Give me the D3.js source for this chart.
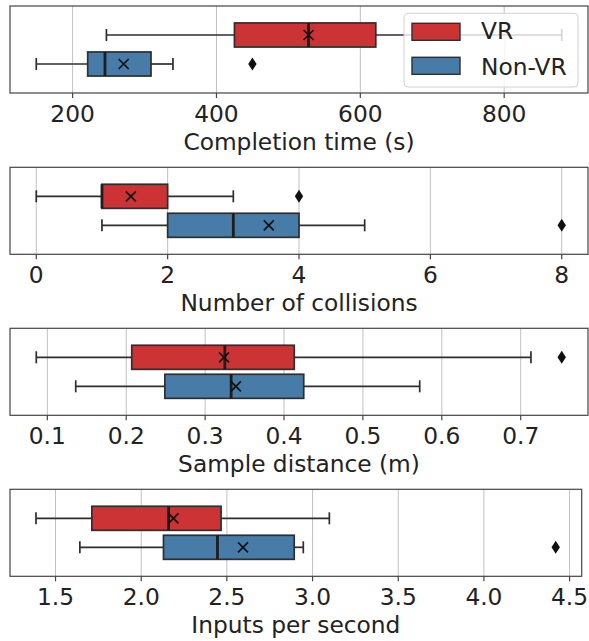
<!DOCTYPE html>
<html>
<head>
<meta charset="utf-8">
<script src="https://cdn.jsdelivr.net/npm/d3@7"></script>
<style>
  body { margin: 0; background: #fff; }
  text { font-family: "DejaVu Sans", sans-serif; fill: #222; }
</style>
</head>
<body>
<script>
// one row per metric, one column per group
const metrics = ["Completion time (s)", "Number of collisions", "Sample distance (m)", "Inputs per second"];
const groups = ["VR", "Non-VR"];
const colors = ["#cb3335", "#477ca8"];

const whiskerLow  = [[247, 149.5], [0, 1], [0.086, 0.136], [1.386, 1.642]];
const q1          = [[425, 221],   [1, 2], [0.207, 0.249], [1.712, 2.130]];
const median      = [[528, 245],   [1, 3], [0.325, 0.333], [2.160, 2.445]];
const mean        = [[528, 271],   [1.44, 3.54], [0.324, 0.339], [2.188, 2.594]];
const q3          = [[621.5, 309], [2, 4], [0.413, 0.425], [2.466, 2.893]];
const whiskerHigh = [[880, 339.5], [3, 5], [0.713, 0.572], [3.098, 2.946]];
const outliers    = [[[], [450]], [[4], [8]], [[0.752], []], [[], [4.419]]];

const tickValues = [
  [200, 400, 600, 800],
  [0, 2, 4, 6, 8],
  [0.1, 0.2, 0.3, 0.4, 0.5, 0.6, 0.7],
  [1.5, 2.0, 2.5, 3.0, 3.5, 4.0, 4.5]
];
const tickFormats = [d3.format("d"), d3.format("d"), d3.format(".1f"), d3.format(".1f")];

const width = 589, height = 641;
const panelTop = [6, 167.3, 328.3, 489.3];
const panelH = 87;
const left = 10;
const rights = [588, 588, 588, 581.7];
const ink = "#2e2e2e";
const fs = 23.3;

const svg = d3.select("body").append("svg")
  .attr("width", width).attr("height", height);

metrics.forEach((m, i) => {
  const g = svg.append("g").attr("transform", `translate(0,${panelTop[i]})`);

  // matplotlib style 5% margins on the data extent
  const all = [...whiskerLow[i], ...whiskerHigh[i], ...outliers[i].flat()];
  const [lo, hi] = d3.extent(all);
  const pad = (hi - lo) * 0.05;
  const x = d3.scaleLinear().domain([lo - pad, hi + pad]).range([left, rights[i]]);
  const y = d3.scalePoint().domain(groups).range([0, panelH]).padding(1);
  const boxH = y.step() * 0.83;

  // grid
  g.selectAll(".grid").data(tickValues[i]).enter().append("line")
    .attr("x1", d => x(d)).attr("x2", d => x(d))
    .attr("y1", 0).attr("y2", panelH)
    .attr("stroke", "#c0c0c0").attr("stroke-width", 1);

  groups.forEach((grp, j) => {
    const cy = y(grp);
    // whiskers
    g.append("line").attr("x1", x(whiskerLow[i][j])).attr("x2", x(q1[i][j]))
      .attr("y1", cy).attr("y2", cy).attr("stroke", ink).attr("stroke-width", 1.7);
    g.append("line").attr("x1", x(q3[i][j])).attr("x2", x(whiskerHigh[i][j]))
      .attr("y1", cy).attr("y2", cy).attr("stroke", ink).attr("stroke-width", 1.7);
    [whiskerLow[i][j], whiskerHigh[i][j]].forEach(v => {
      g.append("line").attr("x1", x(v)).attr("x2", x(v))
        .attr("y1", cy - boxH / 4).attr("y2", cy + boxH / 4)
        .attr("stroke", ink).attr("stroke-width", 1.7);
    });
    // box
    g.append("rect")
      .attr("x", x(q1[i][j])).attr("width", x(q3[i][j]) - x(q1[i][j]))
      .attr("y", cy - boxH / 2).attr("height", boxH)
      .attr("fill", colors[j]).attr("stroke", ink).attr("stroke-width", 1.7);
    // median
    g.append("line").attr("x1", x(median[i][j])).attr("x2", x(median[i][j]))
      .attr("y1", cy - boxH / 2).attr("y2", cy + boxH / 2)
      .attr("stroke", "#1e1e1e").attr("stroke-width", 2.8);
    // mean marker
    const mx = x(mean[i][j]), s = 5;
    g.append("path")
      .attr("d", `M${mx - s},${cy - s}L${mx + s},${cy + s}M${mx - s},${cy + s}L${mx + s},${cy - s}`)
      .attr("stroke", "#111").attr("stroke-width", 1.7);
    // outliers
    g.selectAll(null).data(outliers[i][j]).enter().append("path")
      .attr("d", d => `M${x(d)},${cy - 6.5}L${x(d) + 4.2},${cy}L${x(d)},${cy + 6.5}L${x(d) - 4.2},${cy}Z`)
      .attr("fill", "#111");
  });

  // frame
  g.append("rect").attr("x", left).attr("y", 0)
    .attr("width", rights[i] - left).attr("height", panelH)
    .attr("fill", "none").attr("stroke", "#444").attr("stroke-width", 1.2);

  // x axis
  g.selectAll(".tick").data(tickValues[i]).enter().append("line")
    .attr("x1", d => x(d)).attr("x2", d => x(d))
    .attr("y1", panelH).attr("y2", panelH + 5)
    .attr("stroke", "#444").attr("stroke-width", 1.2);
  g.selectAll(".tl").data(tickValues[i]).enter().append("text")
    .attr("x", d => x(d)).attr("y", panelH + 28.5)
    .attr("text-anchor", "middle").attr("font-size", fs)
    .text(d => tickFormats[i](d));
  g.append("text")
    .attr("x", (left + rights[i]) / 2).attr("y", panelH + 57)
    .attr("text-anchor", "middle").attr("font-size", fs)
    .text(m);

  // legend on first panel
  if (i === 0) {
    const lg = g.append("g");
    lg.append("rect").attr("x", 404).attr("y", 7.3).attr("width", 174).attr("height", 73.7)
      .attr("rx", 4).attr("fill", "white").attr("fill-opacity", 0.8)
      .attr("stroke", "#d0d0d0").attr("stroke-width", 1);
    groups.forEach((grp, j) => {
      lg.append("rect").attr("x", 412).attr("y", 17.3 + j * 34).attr("width", 48).attr("height", 17)
        .attr("fill", colors[j]).attr("stroke", ink).attr("stroke-width", 1.4);
      lg.append("text").attr("x", 481).attr("y", 33 + j * 35.5)
        .attr("font-size", fs).text(grp);
    });
  }
});
</script>
</body>
</html>
